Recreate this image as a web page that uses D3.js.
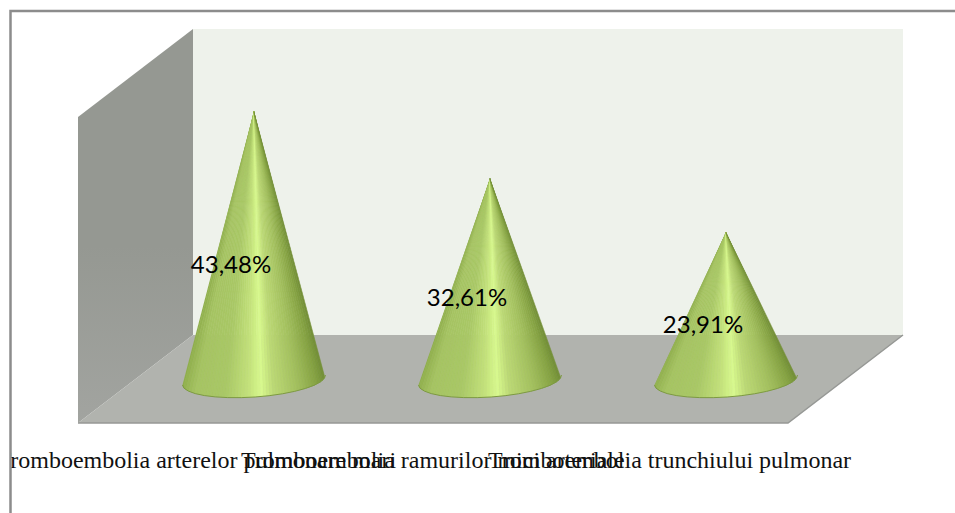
<!DOCTYPE html>
<html>
<head>
<meta charset="utf-8">
<script src="https://d3js.org/d3.v7.min.js"></script>
<style>
  body { margin: 0; background: #fff; }
  svg { display: block; }
</style>
</head>
<body>
<svg id="viz" width="955" height="513"></svg>
<script>
const categories = [
    "Tromboembolia arterelor pulmonare mari",
    "Tromboembolia ramurilor mici arteriale",
    "Tromboembolia trunchiului pulmonar"
];
const values = [43.48, 32.61, 23.91];
const valueLabels = ["43,48%", "32,61%", "23,91%"];

const svg = d3.select("#viz");
const width = +svg.attr("width");
const height = +svg.attr("height");
const defs = svg.append("defs");

// the box of the 3d chart
const wall = { left: 193, right: 903, top: 29, floor: 335 };
const depth = { x: -115, y: 88 };

const x = d3.scaleBand().domain(categories).range([136, 844]).paddingInner(0.394).paddingOuter(0.197);
const y = d3.scaleLinear().domain([0, 50]).range([380, 71]);

const poly = pts => d3.line()(pts) + "Z";

// frame
svg.append("path")
    .attr("d", `M${width},11 H10.5 V${height}`)
    .attr("fill", "none")
    .attr("stroke", "#8c8c8c")
    .attr("stroke-width", 2.5);

// left wall, gets a bit lighter near the floor
const wallFill = defs.append("linearGradient")
    .attr("id", "wallFill")
    .attr("x1", 0).attr("y1", 0).attr("x2", 0).attr("y2", 1);
wallFill.append("stop").attr("offset", "55%").attr("stop-color", "#959892");
wallFill.append("stop").attr("offset", "100%").attr("stop-color", "#a2a4a0");

svg.append("path")
    .attr("d", poly([
        [wall.left, wall.top], [wall.left, wall.floor],
        [wall.left + depth.x, wall.floor + depth.y], [wall.left + depth.x, wall.top + depth.y]
    ]))
    .attr("fill", "url(#wallFill)");

// back wall
svg.append("rect")
    .attr("x", wall.left)
    .attr("y", wall.top)
    .attr("width", wall.right - wall.left)
    .attr("height", wall.floor - wall.top)
    .attr("fill", "#eef2eb");

// floor
svg.append("path")
    .attr("d", poly([
        [wall.left, wall.floor], [wall.right, wall.floor],
        [wall.right + depth.x, wall.floor + depth.y], [wall.left + depth.x, wall.floor + depth.y]
    ]))
    .attr("fill", "#b1b3ae");
svg.append("path")
    .attr("d", d3.line()([
        [wall.right, wall.floor], [wall.right + depth.x, wall.floor + depth.y], [wall.left + depth.x, wall.floor + depth.y]
    ]))
    .attr("fill", "none")
    .attr("stroke", "#969895")
    .attr("stroke-width", 1.5);

// shading round the cone, 0 = left edge, 1 = right edge
const shade = d3.scaleLinear()
    .domain([0, 0.1, 0.3, 0.46, 0.54, 0.62, 0.8, 0.92, 1])
    .range(["#8fae4c", "#a6c463", "#a9c866", "#c4e27c", "#d8f98e", "#bcd976", "#a0bd5c", "#86a343", "#6f8b35"]);

const tilt = 5, ry = 17, below = 30;
const steps = d3.range(0, 1, 1 / 48);

const cones = svg.selectAll(".cone")
    .data(categories)
    .join("g")
    .attr("class", "cone");

cones.each(function (d, i) {
    const g = d3.select(this);
    const x0 = x(d), x1 = x(d) + x.bandwidth();
    const apex = [(x0 + x1) / 2, y(values[i])];
    const angle = -Math.atan2(tilt, x.bandwidth() / 2) * 180 / Math.PI;
    const outline = `M${apex}L${x1},${y(0) - tilt}A${x.bandwidth() / 2},${ry} ${angle} 0 1 ${x0},${y(0) + tilt}Z`;

    defs.append("clipPath").attr("id", "cone" + i).append("path").attr("d", outline);

    // wedges from the tip so the shading narrows towards it
    const reach = (y(0) + below - apex[1]) / (y(0) - apex[1]);
    const xt = d3.scaleLinear().domain([0, 1]).range([x0, x1]);
    const foot = t => [apex[0] + (xt(t) - apex[0]) * reach, y(0) + below];
    g.append("g")
        .attr("clip-path", `url(#cone${i})`)
        .selectAll("path")
        .data(steps)
        .join("path")
        .attr("d", t => poly([apex, foot(t), foot(t + 1 / 48)]))
        .attr("fill", t => shade(t))
        .attr("stroke", t => shade(t))
        .attr("stroke-width", 0.6);

    // dark rim along the bottom only
    g.append("path")
        .attr("d", `M${x1},${y(0) - tilt}A${x.bandwidth() / 2},${ry} ${angle} 0 1 ${x0},${y(0) + tilt}`)
        .attr("fill", "none")
        .attr("stroke", "#7d9a42")
        .attr("stroke-width", 1);
});

// value labels
svg.selectAll(".value")
    .data(categories)
    .join("text")
    .attr("class", "value")
    .attr("x", d => x(d) + x.bandwidth() / 2 - 23)
    .attr("y", (d, i) => (y(values[i]) + y(0)) / 2 + 27)
    .attr("text-anchor", "middle")
    .attr("font-family", "Lato, 'Open Sans', sans-serif")
    .attr("font-size", 24)
    .attr("fill", "#000")
    .text((d, i) => valueLabels[i]);

// category labels, they overlap in the original too. first one is cut by the frame
defs.append("clipPath").attr("id", "labelClip")
    .append("rect").attr("x", 11.5).attr("y", 0).attr("width", width).attr("height", height);

const labelStart = [-3.6, 241, 488];
svg.append("g")
    .attr("clip-path", "url(#labelClip)")
    .selectAll("text")
    .data(categories)
    .join("text")
    .attr("x", (d, i) => labelStart[i])
    .attr("y", 468)
    .attr("font-family", "'Liberation Serif', serif")
    .attr("font-size", 24)
    .attr("fill", "#111")
    .text(d => d);
</script>
</body>
</html>
